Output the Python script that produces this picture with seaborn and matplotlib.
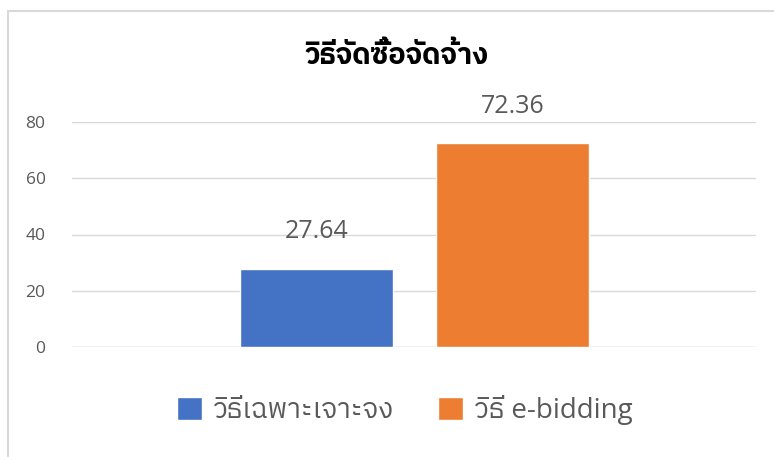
import matplotlib
matplotlib.use("Agg")
import matplotlib.pyplot as plt
import matplotlib.patches as patches
from matplotlib import font_manager
from matplotlib.ft2font import FT2Font
from matplotlib.lines import Line2D
import seaborn as sns

# Data
title = "วิธีจัดซื้อจัดจ้าง"
methods = ["วิธีเฉพาะเจาะจง", "วิธี e-bidding"]
values = [27.64, 72.36]
colors = ["#4472C4", "#ED7D31"]
y_ticks = [0, 20, 40, 60, 80]

# Find an installed font that has Thai glyphs
thai_family = None
for f in font_manager.fontManager.ttflist:
    try:
        if 0x0E27 in FT2Font(f.fname).get_charmap():
            thai_family = f.name
            if "Thai" in f.name:
                break
    except Exception:
        pass

sns.set_theme(style="white")
fams = ["Open Sans"] + ([thai_family] if thai_family else []) + ["DejaVu Sans"]
plt.rcParams["font.family"] = fams

fig = plt.figure(figsize=(7.74, 4.57), dpi=100)
W, H = 774, 457
ax = fig.add_axes([72 / W, 1 - 347 / H, (756 - 72) / W, (347 - 122) / H])

sns.barplot(x=methods, y=values, hue=methods, palette=colors, width=0.78,
            order=methods, hue_order=methods, legend=False, ax=ax, saturation=1)

ax.set_xlim(-1.247, 2.242)
ax.set_ylim(0, 80)
ax.set_yticks(y_ticks)
ax.set_yticklabels([str(t) for t in y_ticks], color="#595959", fontsize=12.5)
ax.tick_params(axis="y", length=0, pad=19)
ax.set_xticks([])
ax.set_xlabel("")
ax.set_ylabel("")
ax.yaxis.grid(True, color="#d9d9d9", linewidth=1)
ax.set_axisbelow(True)
for s in ax.spines.values():
    s.set_visible(False)
ax.axhline(0, color="#d9d9d9", linewidth=1, zorder=0)

for i, v in enumerate(values):
    ax.text(i, v + 11, f"{v:.2f}", ha="center", va="baseline",
            fontsize=18, color="#595959", clip_on=False)

fig.text((305 + 488) / 2 / W, 1 - 56 / H, title, ha="center", va="center",
         fontsize=21, fontweight="bold", color="black")

handles = [patches.Rectangle((0, 0), 1, 1, facecolor=c) for c in colors]
fig.legend(handles, methods, loc="center", bbox_to_anchor=(0.523, 1 - 410 / H),
           ncol=2, frameon=False, fontsize=20, labelcolor="#595959",
           handlelength=0.9, handleheight=0.9, handletextpad=0.4, columnspacing=1.6)

# chart area border (Excel style)
fig.add_artist(Line2D([7.5 / W, 1], [1 - 10.5 / H, 1 - 10.5 / H], color="#d9d9d9", linewidth=1.5))
fig.add_artist(Line2D([7.5 / W, 7.5 / W], [0, 1 - 10.5 / H], color="#d9d9d9", linewidth=1.5))

fig.savefig("out.png", dpi=100)
